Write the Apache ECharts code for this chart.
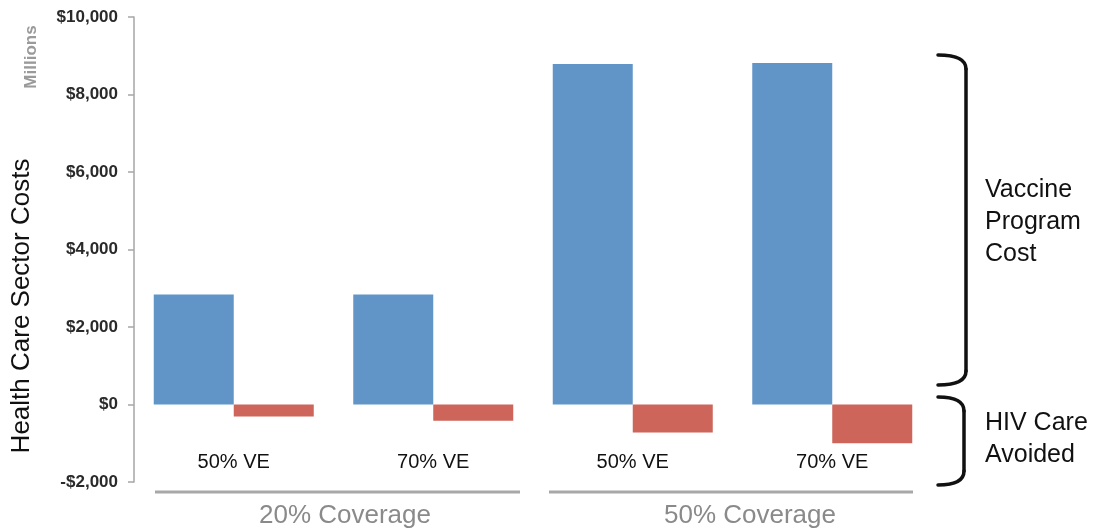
<!DOCTYPE html>
<html>
<head>
<meta charset="utf-8">
<title>Health Care Sector Costs</title>
<script src="https://cdn.jsdelivr.net/npm/echarts@6/dist/echarts.min.js"></script>
<style>
  html, body { margin: 0; padding: 0; background: #ffffff; }
  #chart { width: 1100px; height: 531px; }
</style>
</head>
<body>
<div id="chart"></div>
<script>
// Scenario labels along the x axis (vaccine efficacy)
const categories = ['50% VE', '70% VE', '50% VE', '70% VE'];
// Coverage groups that pair up the scenarios
const coverageGroups = ['20% Coverage', '50% Coverage'];
// Health care sector costs, millions of dollars
const vaccineProgramCost = [2840, 2840, 8790, 8810];
const hivCareAvoided = [-310, -420, -720, -1000];
// Value axis range and step
const yMin = -2000;
const yMax = 10000;
const yStep = 2000;
// Bracket annotations on the right
const bracketLabels = [['Vaccine', 'Program', 'Cost'], ['HIV Care', 'Avoided']];

const chart = echarts.init(document.getElementById('chart'), null, { renderer: 'canvas' });

function money(v) {
  const s = '$' + Math.abs(v).toLocaleString('en-US');
  return v < 0 ? '-' + s : s;
}

const sans = '"Liberation Sans", Arial, Helvetica, sans-serif';
const grey = '#a8a8a8';
const ink = '#111111';

// A right-hand bracket: curled ends joined by a vertical stroke
function bracket(xEnd, xBar, yTop, yBottom) {
  const r = 14;
  const style = { stroke: ink, lineWidth: 3.5, fill: null, lineCap: 'round' };
  return [
    { type: 'bezierCurve',
      shape: { x1: xEnd, y1: yTop, x2: xBar, y2: yTop + r, cpx1: xBar, cpy1: yTop },
      style: style },
    { type: 'line',
      shape: { x1: xBar, y1: yTop + r, x2: xBar, y2: yBottom - r },
      style: style },
    { type: 'bezierCurve',
      shape: { x1: xBar, y1: yBottom - r, x2: xEnd, y2: yBottom, cpx1: xBar, cpy1: yBottom },
      style: style }
  ];
}

const option = {
  backgroundColor: '#ffffff',
  animation: false,
  grid: { left: 134, right: 168, top: 17, bottom: 49, containLabel: false, outerBoundsMode: 'none' },
  xAxis: {
    type: 'category',
    data: categories,
    axisLine: { show: false, onZero: false },
    axisTick: { show: false },
    // scenario names sit inside the plot, just under the negative bars
    axisLabel: {
      margin: -30,
      fontFamily: sans,
      fontSize: 20,
      color: ink
    }
  },
  yAxis: {
    type: 'value',
    min: yMin,
    max: yMax,
    interval: yStep,
    splitLine: { show: false },
    axisLine: { show: true, lineStyle: { color: '#a6a6a6', width: 1.5 } },
    axisTick: { show: true, length: 6, lineStyle: { color: '#a6a6a6', width: 1.5 } },
    axisLabel: {
      margin: 16,
      formatter: money,
      fontFamily: sans,
      fontWeight: 'bold',
      fontSize: 17,
      color: '#2a2a2a'
    }
  },
  series: [
    {
      name: 'Vaccine Program Cost',
      type: 'bar',
      data: vaccineProgramCost,
      barWidth: 80,
      barGap: '0%',
      itemStyle: { color: '#6195c8' }
    },
    {
      name: 'HIV Care Avoided',
      type: 'bar',
      data: hivCareAvoided,
      barWidth: 80,
      barGap: '0%',
      itemStyle: { color: '#cd655a' }
    }
  ],
  graphic: [
    // units note beside the top of the axis
    {
      type: 'text', x: 31, y: 57, rotation: Math.PI / 2,
      style: { text: 'Millions', fontFamily: sans, fontWeight: 'bold', fontSize: 17,
               fill: '#9a9a9a', align: 'center', verticalAlign: 'middle' }
    },
    // value axis title
    {
      type: 'text', x: 22, y: 306, rotation: Math.PI / 2,
      style: { text: 'Health Care Sector Costs', fontFamily: sans, fontSize: 26,
               fill: ink, align: 'center', verticalAlign: 'middle' }
    },
    // coverage group underlines and names
    { type: 'line', shape: { x1: 155, y1: 492, x2: 520, y2: 492 },
      style: { stroke: grey, lineWidth: 3 } },
    { type: 'line', shape: { x1: 549, y1: 492, x2: 913, y2: 492 },
      style: { stroke: grey, lineWidth: 3 } },
    { type: 'text', x: 345, y: 516,
      style: { text: coverageGroups[0], fontFamily: sans, fontSize: 26, fill: '#8a8a8a',
               align: 'center', verticalAlign: 'middle' } },
    { type: 'text', x: 750, y: 516,
      style: { text: coverageGroups[1], fontFamily: sans, fontSize: 26, fill: '#8a8a8a',
               align: 'center', verticalAlign: 'middle' } }
  ]
    .concat(bracket(938, 966, 55, 385))
    .concat(bracket(938, 964, 397, 485))
    .concat([
      { type: 'text', x: 985, y: 222,
        style: { text: bracketLabels[0].join('\n'), fontFamily: sans, fontSize: 25, lineHeight: 32,
                 fill: ink, align: 'left', verticalAlign: 'middle' } },
      { type: 'text', x: 985, y: 439,
        style: { text: bracketLabels[1].join('\n'), fontFamily: sans, fontSize: 25, lineHeight: 32,
                 fill: ink, align: 'left', verticalAlign: 'middle' } }
    ])
};

chart.setOption(option);
</script>
</body>
</html>
